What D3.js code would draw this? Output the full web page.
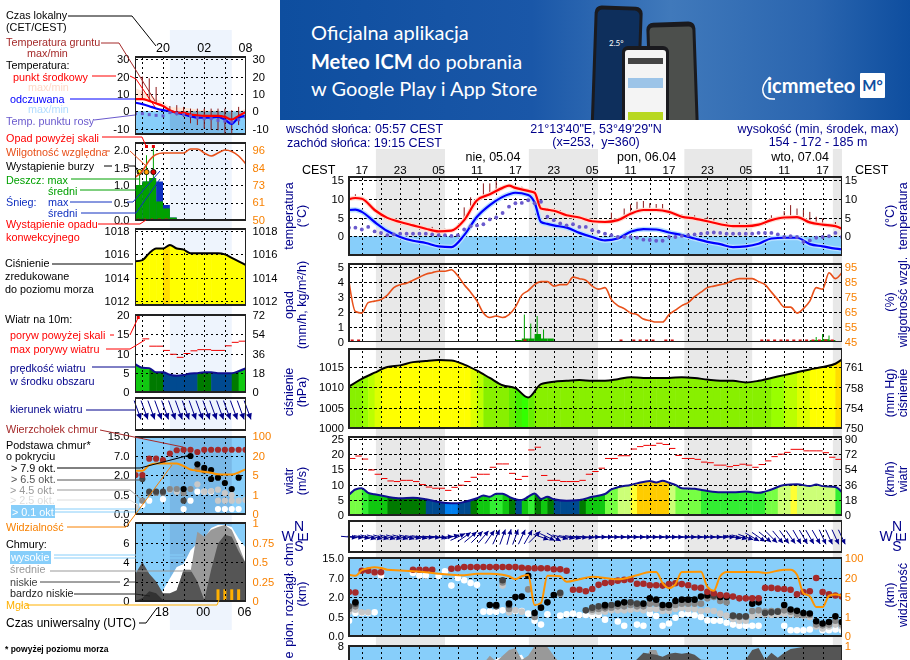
<!DOCTYPE html>
<html lang="pl">
<head>
<meta charset="utf-8">
<title>Meteogram</title>
<script src="https://cdn.jsdelivr.net/npm/d3@7"></script>
<style>
html, body { margin: 0; padding: 0; background: #fff; overflow: hidden; }
svg { display: block; font-family: "Liberation Sans", Arial, sans-serif; font-size: 12.5px; }
.grid line { stroke: #000; stroke-dasharray: 2.5 2.5; shape-rendering: crispEdges; }
.grid .domain, .ticks .domain { display: none; }
.ticks line { display: none; }
.ticks text { font-size: 11.2px; font-family: "Liberation Sans", Arial, sans-serif; }
.frame { fill: none; stroke: #222; stroke-width: 1.3; shape-rendering: crispEdges; }
.sky { mix-blend-mode: multiply; }
</style>
</head>
<body>
<div id="chart"></div>
<script>
// --- main meteogram, hours counted from Saturday 15:00 CEST ---
const hourLabels = ["17","23","05","11","17","23","05","11","17","23","05","11","17"];
const hourLabelAt = [2,8,14,20,26,32,38,44,50,56,62,68,74];
const dayLabels = ["nie, 05.04","pon, 06.04","wto, 07.04"];
const dayLabelAt = [22.5,46.5,70.5];
const nightBands = [[4.2,15],[28.1,38.9],[52.4,63],[75.6,78]];

const tempHours = [0,1,2,4,6,8,10,12,14,16,18,20,22,24,25,26,28,29,30,31,32,34,36,38,40,42,44,46,48,50,52,54,56,58,60,62,64,66,68,70,72,74,76,77];
const tempMean = [9.9,10.2,10,7,4.9,3.8,2.9,2,1.3,1.5,4.3,9.6,11.2,12.9,13.5,12.9,12.1,11.6,7.4,7.1,6.8,5.6,5,4,3.8,4.3,6,7,7,6.5,5.2,4.7,4,3.2,2.7,2.7,3.1,4.3,5,5.1,3.7,3.1,2.7,2];
const tempApparent = [7,7.1,6.5,3.8,1.4,-0.2,-1.2,-1.8,-2.7,-2.9,0.3,5.2,8.3,10.5,11.2,11.6,11,9,3.8,3.3,2.9,2.3,0.9,-0.2,-1.1,-0.6,1.2,1.9,1.8,1,0.3,-0.6,-1.5,-2.1,-2.9,-2.7,-2,-0.6,-0.4,-0.4,-2.1,-2.7,-3.3,-3.5];
const dewPoint = [2.3,2.3,1.8,2.5,1.3,0.9,0.3,0.5,0.7,0.7,0.7,0.7,0.7,0.5,0.3,0.3,0.1,0.3,1.8,2.7,2.9,3.2,4.5,5,6.2,7.9,8.8,8.9,9.6,8.8,9.2,5.2,4.3,3.4,2.9,3.2,2.5,2.5,1.6,1.2,0.7,0.3,-0.2,-0.2,-0.2,-0.4,-0.9,-1,-1.2,-1.2,-0.2,-0.2,0.1,0.3,0.5,0.7,0.9,1,0.9,0.7,0.7,0.7,0.7,0.7,0.9,0.9,0.9,0.5,-0.2,0,-0.2,-1.5,-1.1,-0.4,-0.2,0,0.9,-0.2];
const groundHours = [1,3,5,7,9,11,13,15,18,19,21,22,23,25,27,29,33,35,37,41,43,44,45,46,47,48,49,52,54,56,57,59,61,66,68,69,70,71,72,73,74,76,77];
const groundMax = [11.2,8.3,5.6,4.3,3.6,3.2,2.5,2,7.7,10.4,14.1,14.1,14.7,13.9,13.2,12.3,7,5.6,5,6.3,7.4,8.5,9.2,9.4,8.8,8.6,8.6,5.9,5.6,5.2,4.7,3.8,3.7,5.6,6.7,8.3,7.4,7,6.5,5.2,4.7,3.8,3.6];

const humidity = [85,65,64,71,72,73,76,81,83,84,86,88,90,91,92,92,93,89,83,78,72,64,61,62,61,63,68,76,79,83,85,85,82,83,83,88,87,86,82,80,81,73,69,67,64,63,60,59,58,58,63,66,69,71,75,78,81,82,83,84,86,87,87,87,85,83,78,73,68,68,64,67,72,81,80,91,87,91];
const rainHours = [26,27,28,29,30,31,72,73,74,75];
const rainMean = [0.1,0.2,0.2,0.5,0.2,0.2,0.1,0.1,0.15,0.1];
const rainMaxHours = [27.4,28.4,29.4,30.4,73,74,75];
const rainMax = [1.8,1.2,1.7,0.8,0.3,0.5,0.4];
const convectiveHours = [0,1,27,42,44,45,46,47,49,50,64,65,66,67,68,69,70,71,72,73,74,75];

const pressureHours = [0,2,4,6,8,10,12,14,16,18,20,22,24,26,28,30,32,34,36,38,40,42,44,46,48,50,52,54,56,58,60,62,64,66,68,70,72,74,76,77];
const pressure = [1010.2,1012.1,1013.6,1015,1015.4,1016.2,1016.5,1016.7,1016.6,1015.6,1014.1,1012.3,1010.5,1009.8,1007.5,1010.8,1011.4,1011.6,1011.8,1011.6,1011.6,1012,1012.5,1012.3,1012.3,1012.3,1012.5,1012.3,1011.9,1011.6,1011.6,1011.2,1011.6,1012.3,1013,1013.7,1014.4,1015,1015.8,1016.8];

const windHours = [0,1,2,3,4,6,8,10,12,14,16,17,18,20,21,22,23,24,25,26,27,28,29,30,31,32,34,36,38,40,41,42,44,45,47,48,49,50,51,52,54,56,58,60,62,64,66,68,70,72,73,74,76,77];
const windSpeed = [6.6,8.4,8.8,7.3,6.8,6,5.5,5.7,5.2,4.3,3.9,3.9,4.3,5.5,6.4,6,7,7,6,5.2,4.9,6,7.1,5.3,6,5.2,4.7,4.9,6,6.9,8.4,9.1,9.9,10.4,11.2,10.7,11.3,10.6,9.9,8.8,8.6,7.9,7.5,7.5,7.7,7.3,8.4,9.9,10.15,9.5,10,9.5,9.2,7.5];
const gusts = [18.6,19.4,18.4,14.8,13.4,12,11.2,11,11.4,11.4,11,10,9.2,8.8,8.8,8.1,9.1,9.8,11,12.4,13.4,13.4,15.7,16.8,16.8,13.7,11.7,12.7,21.4,22.3,13,11.4,11.4,11,11,11,11.4,13.4,14.3,15.4,18.6,18.6,19.5,19.5,21.7,22.5,22.9,22.9,23.6,23.2,21.9,19.6,18.6,18.6,18.3,17.4,17.2,16.4,16.4,15.9,16.3,16.7,16.4,15.7,16.6,17.8,19.2,20,20.6,21.6,21.6,21.1,21.1,21.1,20.5,19,18.3];
const windDirection = [95,95,100,105,105,105,105,105,105,105,100,100,95,95,95,85,75,65,55,50,45,40,35,25,20,15,20,25,30,45,110,115,120,105,100,100,95,95,90,90,90,90,90,90,90,90,90,90,90,90,90,90,90,90,90,90,90,90,90,90,100,105,110,120,125,130,135,140,145,145,150,150,150,150,155,155,155,155];

const cloudTopHours = [0,1,2,3,4,5,10,11,12,13,16,17,18,19,20,21,22,23,24,25,26,27,28,29,30,31,32,33,34,35,36,37,38,39,40,41,42,43,44,45,46,47,48,49,50,51,52,53,54,55,56,57,58,59,60,61,62,63,64,65,66,67,68,69,70,71,72,73,74,75,76,77];
const cloudTop = [3.3,3.2,9.9,9.9,9.3,9.3,10.3,10.3,10.3,10.3,10.7,10.9,11.4,11.4,11.4,11.4,11.4,11.4,11.4,11.4,11.4,11.1,10.9,10.9,10.9,10.9,10.5,10.5,9.9,3.9,3.9,3.5,4.1,5.2,5.7,5.9,6.3,6.5,6.6,5.5,5.5,5.1,5.1,5,5.4,5.6,5.4,5.1,4.5,4.4,3.4,3,2.5,2.4,2.1,1.9,1.9,1.9,1.9,4.4,4.4,4.2,4.1,3.9,2.7,3.3,3.5,7,3.3,2.7,2.4,2.1];
const baseBlackHours = [1,22,23,25,26,27,28,29,30,31,32,40,42,43,46,47,48,49,50,51,52,53,54,55,56,58,59,63,64,68,69,70,71,72,73,74,75,76,77];
const baseBlack = [1.6,1.4,1.4,1.5,2,2.1,7.9,0.8,1.2,1.6,2.5,1.4,1.5,1.6,1.5,1.9,1.8,1.4,1.4,1.7,1.8,1.8,1.8,2.1,2.4,2,2,1.5,1.6,1.4,1.06,0.96,0.8,0.76,0.39,0.33,0.37,0.55,0.37];
const baseDarkHours = [0,1,23,24,25,33,37,38,39,40,41,44,45,57,60,61,62,65,66,67];
const baseDark = [1.3,1.5,1.3,6.4,1.4,3.1,1,1.2,1.3,1.3,1.4,1.6,1.5,2.3,0.6,0.55,0.55,0.8,0.85,0.9];
const baseMidHours = [0,1,24,25,28,29,33,38,39,40,41,42,43,44,45,46,47,48,49,50,51,52,53,54,55,56,57,58,59,60,61,62,63,64,65,66,67,68,69,70,71,72,73,74,75,76,77];
const baseMid = [1.1,1.3,5.8,1.1,4,0.5,2.8,1.05,1.1,1.15,1.2,1.3,1.3,1.4,1.3,1.3,1.5,1.5,1.2,1.2,1.4,1.5,1.5,1.5,1.5,1.9,2,1.7,1.6,0.55,0.5,0.5,0.95,1,0.9,0.95,0.95,1,0.9,0.7,0.65,0.65,0.3,0.28,0.3,0.4,0.3];
const baseLightHours = [0,1,2,3,4,24,25,26,27,38,39,40,41,42,43,44,45,46,47,48,49,50,51,52,53,54,55,56,57,58,59,60,61,62,63,64,65,66,67,68,69,70,71,72,73,74,75,76,77];
const baseLight = [0.9,1.05,0.85,0.85,9,5,0.85,1,0.9,0.9,0.9,0.9,1,1,1,1.05,1.1,1,1.1,1.1,0.95,0.95,1.1,1.2,1.1,1.1,0.95,1,0.95,0.75,0.6,0.45,0.4,0.4,0.55,0.7,0.7,0.65,0.7,0.75,0.7,0.65,0.6,0.5,0.25,0.2,0.25,0.3,0.25];
const baseWhiteHours = [0,1,2,3,4,5,10,11,12,14,15,16,17,18,19,20,21,22,23,24,25,26,27,28,29,30,31,33,34,35,36,37,38,39,40,42,43,45,46,47,48,49,50,51,52,53,54,55,56,57,58,59,60,61,62,63,64,68,69,70,71,72,74,75,76,77];
const baseWhite = [0.4,0.8,0.8,0.8,0.85,8,9,8,8,7.8,9.7,5,7,6.4,5.7,5.2,0.9,0.9,0.9,1,0.95,0.95,0.95,0.75,0.4,0.3,0.7,0.6,0.7,0.75,0.65,0.65,0.6,0.65,0.43,0.38,0.27,0.3,0.27,0.75,0.58,0.27,0.33,0.48,0.7,0.75,0.63,0.5,0.41,0.4,0.4,0.35,0.3,0.27,0.27,0.27,0.27,0.27,0.15,0.15,0.15,0.17,0.15,0.15,0.17,0.15];
const visibilityHours = [0,1,2,3,4,5,6,8,10,12,14,16,18,20,22,24,25,26,27,28,29,30,31,32,33,34,36,38,42,45,47,48,49,50,51,52,55,56,57,58,59,64,65,68,69,70,71,72,73,74,75,76,77];
const visibility = [33,29,51,59,63,60,53,50,47,43,37,33,31,37,37,33,27,19,27,32,3.4,3.8,29,29,27,17,19,25,19,31,44,44,16,12,15,44,45,13,10,27,44,44,40,53,53,33,8,5.5,3,3,6,7,6];

const cloudHours = [0,20,21,22,23,24,25,26,27,28,29,31,32,33,44,46,47,48,49,50,51,52,53,54,55,60,62,63,64,65,66,67,68,69,70,72,75,77];
const cloudLow = [3,4,4,4,4,4,4,5,5,5,5,5,5,5,6,7.3,7.2,7.1,6.9,7.2,7.3,7.2,7.3,7.1,6.6,6.4,6.6,7.6,7.8,6.6,7.3,6.8,7.3,7.7,7.8,8,8,8];
const cloudMid = [2,5,6.2,7,6.4,7,7.6,7.8,6.6,7,8,7.9,7,6.2,5,6,7.6,7.6,6,5,5,5,5,5,5,5,5,5,5,5,5,5,5,5,5,5,5,5];
const cloudHigh = [2,5,5,6,6.7,6.9,7,7,7.1,6,5,5,5,5,5,5,5,5,5,5,5,5,5,5,5,5,5,5,5,5,5,5,5,5,5,5,5,5];

// --- small "now" chart on the left, local hours ---
const sideHours = [16,17,18,19,20,21,22,23,24,25,26,27,28,29,30,31,32];
const sideTempMean = [7,7,5.9,4.5,3,0.6,-0.8,-1,-2,-2.4,-2.7,-2.7,-2.7,-3.3,-4.9,-2.7,-0.6];
const sideTempMax = [13.3,11.5,9.5,7,5,2.5,2.2,2,1.5,1,0.5,0.5,0.3,0,-1,0,1.2];
const sideApparent = [4.9,4.1,2.9,1.6,0.6,0,-0.8,-1.8,-2.9,-3.7,-3.7,-3.7,-3.3,-4.9,-7.3,-3.7,-2.7];
const sideDewPoint = [-1.4,-1.4,-2,-2.4,-2.7,-0.8,-1.4,-2,-2.7,-3.9,-4.3,-4.3,-5.3,-5.7,-6.3,-4.9,-3.3];
const sideGroundMax = [null,20,19,14,null,3,3.5,2.5,1.5,1.5,1.5,1.5,1.5,1.5,0.6,2.5,null];
const sideGroundMin = [null,7,5.9,4.5,null,-1.4,-2.4,-3.3,-7,-8,-10,-10.6,-11,-13,-12.6,-8,null];
const sideHumidity = [78,82,89,93,94,94,94,94,96.7,96.7,94,92,94,96,95,92,87];
const sideRainHours = [16,17,18,19,20,21];
const sideRainMean = [1,1.1,1.2,0.53,0.33,0.07];
const sideSnowTop = [1,1.1,1.2,1.1,0.43,0.07];
const sideRainMaxHours = [16.6,17.6,18.6];
const sideRainMax = [1.4,1.85,2.1];
const stormColors = ["#ffff00","#ffa500","#e00000"];
const sideConvectiveHours = [16,17,18,19,20];
const sidePressure = [1015.4,1015.5,1016.1,1016.5,1016.5,1016.8,1016.5,1016.4,1016.1,1016.1,1016.1,1016.1,1016.1,1016,1015.7,1015.4,1015.1];
const sideWind = [7.2,6.3,6.2,5.1,5.1,4.5,4.2,4.4,4.8,4.9,5.1,5.1,4.9,4.9,4.9,5.4,6.1];
const sideGustHours = [17,18,19,20,21,22,23,24,25,26,27,28,29,30,31];
const sideGusts = [13.8,11.9,11.9,10.8,9.8,9,10,10.7,11,11,10.8,10.8,12,12.9,13.2];
const sideWindDirection = [160,160,160,160,160,160,160,160,160,160,160,160,160,160,160,160,160];
const sideCloudTop = [2,2,6.3,6.3,5.9,8,9.3,9.5,9.5,8.6,9.5,9.5,9.5,9.5,9.5,9.5,9.5];
const sideBlackHours = [23,24,25,26,27,27,28,29,30,31];
const sideBlack = [0.95,7,4.8,3.9,3.3,1.7,1.8,1.4,0.95,1.8];
const sideDarkHours = [17,18,19,20,23,26];
const sideDark = [1.7,0.75,0.75,0.75,0.35,3.2];
const sideMidHours = [17,18,19,20,21,22,23,24,25];
const sideMid = [0.35,0.65,0.65,0.65,0.95,0.95,0.65,0.95,3.6];
const sideLightHours = [16,21,22,25,26,27,28,29,30,28,29,30,31,32];
const sideLight = [0.2,0.9,0.75,1.3,0.75,0.8,0.9,0.65,0.5,0.35,0.35,0.35,0.35,0.37];
const sideWhiteHours = [17,18,20,23,24,25,26,27,28,29,30,31];
const sideWhite = [0.24,0.35,0.39,0.13,0.35,0.75,0.75,0.75,0.13,0.13,0.13,0.13];
const sideVisibility = [8.4,8.4,12.8,14,14,14,14,12,9.4,8.4,7.5,6.8,5.5,5.3,5.3,7,9.4];
const sideCloudHigh = [0,0,0,0,1.1,2.3,3.5,3.8,5.2,5.9,6.4,7.5,7.8,7.8,7.6,6.4,5.5];
const sideCloudMid = [0,0,0,0,0,0,1.1,3.2,3,7.1,6.6,7.3,7.6,7.8,7.3,5.7,3.9];
const sideCloudLow = [2.8,4,2.8,2,0.8,0.8,1.1,3.2,3.2,2,0.1,3.2,5.9,6.8,6.6,5.1,3.9];
const sideCloudVeryLow = [0,0.3,1,0.8,0.1,0,0,0,0,0,0,0,0,0,0,0,0];
const fogHours = [28,29,30,31];
const fogAmount = [0.15,0.15,0.15,0.15];

// tick tables
const baseTicks = [0,0.5,2,7,15];
const visTicks = [0,1,5,20,100];
const cloudAmountTicks = [0,2,4,6,8];
const cloudFractionLabels = ["0","0.25","0.5","0.75","1"];

// palettes used for the columns under pressure and wind
const pressureColor = d3.scaleThreshold()
    .domain([1007.9,1009,1010,1012.6,1013.2,1013.9,1014.6,1016.75])
    .range(["#33ff00","#44ee00","#66ee00","#88f000","#99ff00","#bbff00","#ddff00","#ffff00","#ffdd00"]);
const windColor = d3.scaleThreshold()
    .domain([4,5,6,7,8,9.2,10.05,10.5])
    .range(["#0080f0","#004a90","#007a00","#10c810","#33ee33","#77ff44","#ccff77","#ffff33","#ffcc00"]);

const NAVY = "#00008b", ORANGE = "#f88000", RH = "#e8501a", DARKRED = "#a52a2a", SKY = "#87cefa";

const svg = d3.select("#chart").append("svg").attr("width", 910).attr("height", 660);
const defs = svg.append("defs");
let clipId = 0;

const mainChart = { x: d3.scaleLinear().domain([0,77]).range([349,841.8]), left: 349, right: 841.8,
    gridHours: d3.range(2,78,3), padLeft: 5, padRight: 3, dotR: 3.3 };
const sideChart = { x: d3.scaleLinear().domain([16,32]).range([135.5,245.5]), left: 135.5, right: 245.5,
    gridHours: d3.range(17,33,3), padLeft: 6, padRight: 7, dotR: 3.1, nightFrom: 21, nightTo: 30 };

// night shading first, so panels sit on top of it
nightBands.forEach(([a,b]) => {
    svg.append("rect").attr("x", mainChart.x(a)).attr("y", 149)
        .attr("width", Math.min(mainChart.x(b), 842) - mainChart.x(a)).attr("height", 511).attr("fill", "#e8e8e8");
});
svg.append("rect").attr("x", sideChart.x(sideChart.nightFrom)).attr("y", 30)
    .attr("width", sideChart.x(sideChart.nightTo) - sideChart.x(sideChart.nightFrom))
    .attr("height", 600).attr("fill", "#eef4fd");

function makePanel(chart, top, bottom, o) {
    const { left, right } = chart;
    const id = `clip-${clipId++}`;
    defs.append("clipPath").attr("id", id).append("rect")
        .attr("x", left).attr("y", top).attr("width", right - left).attr("height", bottom - top);
    const root = svg.append("g");
    const fills = root.append("g").attr("clip-path", `url(#${id})`);
    const grid = root.append("g").attr("clip-path", `url(#${id})`);
    const marks = root.append("g").attr("clip-path", `url(#${id})`);
    const over = root.append("g");

    if (o.y) {
        grid.append("g").attr("class", "grid").attr("transform", `translate(${left},0)`)
            .call(d3.axisLeft(o.y).tickValues(o.gridValues || o.leftTicks).tickSize(-(right - left)).tickFormat(""));
    }
    grid.append("g").attr("class", "grid").attr("transform", `translate(0,${bottom})`)
        .call(d3.axisBottom(chart.x).tickValues(chart.gridHours).tickSize(-(bottom - top)).tickFormat(""));

    root.append("rect").attr("class", "frame").attr("x", left).attr("y", top)
        .attr("width", right - left).attr("height", bottom - top);

    if (o.y) {
        root.append("g").attr("class", "ticks").attr("transform", `translate(${left},0)`)
            .call(d3.axisLeft(o.y).tickValues(o.leftTicks).tickSize(0).tickPadding(chart.padLeft)
                .tickFormat(o.leftFormat || (d => d)));
        const ry = o.yRight || o.y;
        root.append("g").attr("class", "ticks").attr("transform", `translate(${right},0)`)
            .call(d3.axisRight(ry).tickValues(o.rightTicks || o.leftTicks).tickSize(0).tickPadding(chart.padRight)
                .tickFormat(o.rightFormat || (d => d)))
            .selectAll("text").attr("fill", o.rightColor || "#000");
    }
    return { chart, fills, grid, marks, over, top, bottom, left, right };
}

function sky(panel, y0, y1) {
    panel.fills.append("rect").attr("class", "sky").attr("x", panel.left).attr("y", y0)
        .attr("width", panel.right - panel.left).attr("height", y1 - y0).attr("fill", SKY);
    const c = panel.chart;
    if (c.nightFrom) {
        panel.fills.append("rect").attr("class", "sky").attr("x", c.x(c.nightFrom)).attr("y", y0)
            .attr("width", c.x(c.nightTo) - c.x(c.nightFrom)).attr("height", y1 - y0).attr("fill", "#e4e4ec");
    }
}

function drawLine(g, x, y, hours, values, stroke, width) {
    const line = d3.line().x((d,i) => x(hours[i])).y(d => y(d)).curve(d3.curveMonotoneX);
    g.append("path").attr("d", line(values)).attr("fill", "none").attr("stroke", stroke).attr("stroke-width", width);
}

function drawDots(g, chart, y, hours, values, fill) {
    g.append("g").selectAll("circle").data(values).join("circle")
        .attr("cx", (d,i) => chart.x(hours[i])).attr("cy", d => y(d)).attr("r", chart.dotR).attr("fill", fill);
}

// column fill clipped to an area under the line, coloured by the value reached at the end of the hour
function drawColumnArea(panel, chart, y, hours, values, color, base) {
    const lookup = d3.scaleLinear().domain(hours).range(values);
    const area = d3.area().x((d,i) => chart.x(hours[i])).y0(y(base)).y1(d => y(d)).curve(d3.curveMonotoneX);
    const id = `clip-${clipId++}`;
    defs.append("clipPath").attr("id", id).append("path").attr("d", area(values));
    const first = chart.x.domain()[0], last = chart.x.domain()[1];
    panel.fills.append("g").attr("clip-path", `url(#${id})`).selectAll("rect").data(d3.range(first, last)).join("rect")
        .attr("x", d => chart.x(d)).attr("width", d => chart.x(d+1) - chart.x(d) + 0.5)
        .attr("y", panel.top).attr("height", panel.bottom - panel.top)
        .attr("fill", d => color(lookup(d+1)));
}

function drawArrows(panel, chart, hours, dirs, cy, len, head) {
    const g = panel.over.append("g");
    hours.forEach((h,i) => {
        const a = dirs[i] * Math.PI / 180;
        const dx = Math.sin(a) * len / 2, dy = -Math.cos(a) * len / 2;
        const cx = chart.x(h);
        g.append("line").attr("x1", cx - dx).attr("y1", cy - dy).attr("x2", cx + dx).attr("y2", cy + dy)
            .attr("stroke", NAVY).attr("stroke-width", 1);
        const tx = cx + dx, ty = cy + dy;
        const ux = Math.sin(a), uy = -Math.cos(a);
        g.append("path").attr("fill", NAVY)
            .attr("d", `M${tx},${ty}L${tx - ux*head - uy*head*0.5},${ty - uy*head + ux*head*0.5}L${tx - ux*head + uy*head*0.5},${ty - uy*head - ux*head*0.5}Z`);
    });
}

function drawBase(panel, chart, y, vis, s) {
    drawDots(panel.marks, chart, y, s.whiteH, s.white, "#fff");
    drawDots(panel.marks, chart, y, s.lightH, s.light, "#c8c8c8");
    drawDots(panel.marks, chart, y, s.midH, s.mid, "#888");
    drawDots(panel.marks, chart, y, s.darkH, s.dark, "#444");
    drawDots(panel.marks, chart, y, s.blackH, s.black, "#000");
    drawDots(panel.marks, chart, y, s.topH, s.top, DARKRED);
    drawLine(panel.marks, chart.x, vis, s.visH, s.vis, "#ff9400", 2);
}

// ---------- main chart panels ----------
(function drawMain() {
    const c = mainChart;

    const yT = d3.scaleLinear().domain([-5,15]).range([255,180]);
    const pT = makePanel(c, 177, 255, { y: yT, leftTicks: [0,5,10,15] });
    sky(pT, yT(0), 255);
    const meanAt = d3.scaleLinear().domain(tempHours).range(tempMean);
    pT.marks.append("g").selectAll("line").data(groundHours).join("line")
        .attr("x1", d => c.x(d)).attr("x2", d => c.x(d))
        .attr("y1", (d,i) => yT(groundMax[i])).attr("y2", d => yT(meanAt(d)))
        .attr("stroke", "#8b1a1a").attr("stroke-width", 1);
    drawLine(pT.marks, c.x, yT, tempHours, tempApparent, "#b8e0ff", 5);
    drawLine(pT.marks, c.x, yT, tempHours, tempMean, "#ffdcd0", 4.5);
    drawLine(pT.marks, c.x, yT, tempHours, tempApparent, "#0000ff", 2.2);
    drawLine(pT.marks, c.x, yT, tempHours, tempMean, "#ff0000", 2.2);
    pT.marks.append("g").selectAll("circle").data(dewPoint).join("circle")
        .attr("cx", (d,i) => c.x(i)).attr("cy", d => yT(d)).attr("r", 1.9).attr("fill", "#6a5acd");

    const yP = d3.scaleLinear().domain([0,5]).range([341.5,266.7]);
    const yH = d3.scaleLinear().domain([45,95]).range([341.5,266.7]);
    const pP = makePanel(c, 264, 341.7, { y: yP, leftTicks: [0,1,2,3,4,5], yRight: yH,
        rightTicks: [45,55,65,75,85,95], rightColor: ORANGE });
    pP.marks.append("g").selectAll("rect").data(rainMean).join("rect")
        .attr("x", (d,i) => c.x(rainHours[i])).attr("width", c.x(1) - c.x(0))
        .attr("y", d => yP(d)).attr("height", d => yP(0) - yP(d)).attr("fill", "#00a000");
    pP.marks.append("g").selectAll("line").data(rainMax).join("line")
        .attr("x1", (d,i) => c.x(rainMaxHours[i])).attr("x2", (d,i) => c.x(rainMaxHours[i]))
        .attr("y1", d => yP(d)).attr("y2", yP(0)).attr("stroke", "#00a000");
    pP.marks.append("line").attr("x1", c.left).attr("x2", c.right).attr("y1", yP(0)).attr("y2", yP(0))
        .attr("stroke", "#006000");
    pP.marks.append("g").selectAll("rect.conv").data(convectiveHours).join("rect")
        .attr("x", d => c.x(d) + 1.7).attr("width", 3).attr("y", yP(0) - 2).attr("height", 2).attr("fill", "#d01010");
    drawLine(pP.marks, c.x, yH, d3.range(0,78), humidity, RH, 1.6);

    const yPr = d3.scaleLinear().domain([1000,1015]).range([428,367]);
    const yMm = d3.scaleLinear().domain([750,754,758,761]).range([428,408,388,367]);
    const pPr = makePanel(c, 349, 428, { y: yPr, leftTicks: [1000,1005,1010,1015], yRight: yMm, rightTicks: [750,754,758,761] });
    drawColumnArea(pPr, c, yPr, pressureHours, pressure, pressureColor, 1000);
    drawLine(pPr.marks, c.x, yPr, pressureHours, pressure, "#000", 2);

    const yW = d3.scaleLinear().domain([0,25]).range([515,439]);
    const yKm = d3.scaleLinear().domain([0,90]).range([515,439]);
    const pW = makePanel(c, 437, 515, { y: yW, leftTicks: [0,5,10,15,20,25], yRight: yKm, rightTicks: [0,18,36,54,72,90] });
    drawColumnArea(pW, c, yW, windHours, windSpeed, windColor, 0);
    drawLine(pW.marks, c.x, yW, windHours, windSpeed, "#101090", 2);
    pW.marks.append("g").selectAll("line").data(gusts).join("line")
        .attr("x1", (d,i) => c.x(i)).attr("x2", (d,i) => c.x(i+1)).attr("y1", d => yW(d)).attr("y2", d => yW(d))
        .attr("stroke", "#f00000").attr("stroke-width", 1);

    const pD = makePanel(c, 521, 552, {});
    drawArrows(pD, c, d3.range(0,78), windDirection, 537, 16, 5);

    const yB = d3.scaleLinear().domain(baseTicks).range([636,617,597,578,558]);
    const yV = d3.scaleLinear().domain(visTicks).range([636,617,597,578,558]);
    const pB = makePanel(c, 558, 636, { y: yB, leftTicks: baseTicks, leftFormat: d3.format(".1f"),
        yRight: yV, rightTicks: visTicks, rightColor: ORANGE });
    sky(pB, 558, 636);
    drawBase(pB, c, yB, yV, { topH: cloudTopHours, top: cloudTop, blackH: baseBlackHours, black: baseBlack,
        darkH: baseDarkHours, dark: baseDark, midH: baseMidHours, mid: baseMid, lightH: baseLightHours, light: baseLight,
        whiteH: baseWhiteHours, white: baseWhite, visH: visibilityHours, vis: visibility });

    // the window cuts this panel off, only its top ticks are labelled
    const yC = d3.scaleLinear().domain([0,8]).range([724,646]);
    const yCf = d3.scaleLinear().domain([0,1]).range([724,646]);
    const pC = makePanel(c, 646, 724, { y: yC, leftTicks: [8], gridValues: cloudAmountTicks, yRight: yCf, rightTicks: [1],
        rightColor: ORANGE });
    sky(pC, 646, 724);
    const area = vals => d3.area().x((d,i) => c.x(cloudHours[i])).y0(724).y1(d => yC(d))(vals);
    pC.fills.append("path").attr("d", area(cloudHigh)).attr("fill", "#fff");
    pC.fills.append("path").attr("d", area(cloudMid)).attr("fill", "#999");
    pC.fills.append("path").attr("d", area(cloudLow)).attr("fill", "#555");
})();

// ---------- left chart panels ----------
(function drawSide() {
    const c = sideChart;

    const yT = d3.scaleLinear().domain([-10,30]).range([128.5,59.3]);
    const pT = makePanel(c, 57, 134, { y: yT, leftTicks: [-10,0,10,20,30] });
    pT.fills.append("path").attr("fill", "#ffe6d8")
        .attr("d", d3.area().x((d,i) => c.x(sideHours[i])).y0((d,i) => yT(sideTempMean[i])).y1(d => yT(d))(sideTempMax));
    sky(pT, yT(0), 134);
    pT.marks.append("g").selectAll("line").data(sideHours.filter((h,i) => sideGroundMax[i] != null)).join("line")
        .attr("x1", d => c.x(d)).attr("x2", d => c.x(d))
        .attr("y1", d => yT(sideGroundMax[d-16])).attr("y2", d => yT(sideGroundMin[d-16]))
        .attr("stroke", "#8b1a1a").attr("stroke-width", 1);
    drawLine(pT.marks, c.x, yT, sideHours, sideApparent, "#0000ff", 2.2);
    drawLine(pT.marks, c.x, yT, sideHours, sideTempMean, "#ff0000", 2.2);
    pT.marks.append("g").selectAll("rect").data(sideDewPoint).join("rect")
        .attr("x", (d,i) => c.x(sideHours[i]) - 1.5).attr("y", d => yT(d) - 1.5).attr("width", 3).attr("height", 3)
        .attr("fill", "#6a5acd");

    const yP = d3.scaleLinear().domain([0,2]).range([220,150]);
    const yH = d3.scaleLinear().domain([50,61,73,84,96]).range([220,202,184.7,168,150]);
    const pP = makePanel(c, 143, 220, { y: yP, leftTicks: [0,0.5,1,1.5,2], leftFormat: d3.format(".1f"), yRight: yH,
        rightTicks: [50,61,73,84,96], rightColor: ORANGE });
    const band = c.x(17) - c.x(16);
    pP.marks.append("g").selectAll("rect").data(sideSnowTop).join("rect")
        .attr("x", (d,i) => c.x(sideRainHours[i])).attr("width", band).attr("y", d => yP(d))
        .attr("height", d => yP(0) - yP(d)).attr("fill", "#1030c0");
    pP.marks.append("g").selectAll("rect.r").data(sideRainMean).join("rect")
        .attr("x", (d,i) => c.x(sideRainHours[i])).attr("width", band).attr("y", d => yP(d))
        .attr("height", d => yP(0) - yP(d)).attr("fill", "#00a000");
    pP.over.append("g").selectAll("line").data(sideRainMax).join("line")
        .attr("x1", (d,i) => c.x(sideRainMaxHours[i])).attr("x2", (d,i) => c.x(sideRainMaxHours[i]))
        .attr("y1", d => yP(d)).attr("y2", yP(0)).attr("stroke", "#00a000");
    pP.over.append("g").selectAll("rect").data(sideRainMaxHours.slice(1)).join("rect")
        .attr("x", d => c.x(d) - 1.5).attr("y", yP(2) - 5).attr("width", 3).attr("height", 3).attr("fill", "#e00000");
    pP.over.append("g").selectAll("circle").data(sideRainMaxHours).join("circle")
        .attr("cx", d => c.x(d)).attr("cy", yP(1.37)).attr("r", 2.6).attr("stroke", "#000").attr("stroke-width", 0.8)
        .attr("fill", (d,i) => stormColors[i]);
    pP.marks.append("g").selectAll("rect.c").data(sideConvectiveHours).join("rect")
        .attr("x", d => c.x(d) + 1.7).attr("width", 3).attr("y", yP(0) - 1.5).attr("height", 1.5).attr("fill", "#d01010");
    drawLine(pP.over, c.x, yH, sideHours, sideHumidity, RH, 1.6);

    const yPr = d3.scaleLinear().domain([1012,1018]).range([301,231]);
    const pPr = makePanel(c, 229, 305, { y: yPr, leftTicks: [1012,1014,1016,1018] });
    drawColumnArea(pPr, c, yPr, sideHours, sidePressure, pressureColor, 1010);
    drawLine(pPr.marks, c.x, yPr, sideHours, sidePressure, "#000", 2);

    const yW = d3.scaleLinear().domain([0,20]).range([392,315]);
    const yKm = d3.scaleLinear().domain([0,72]).range([392,315]);
    const pW = makePanel(c, 315, 392, { y: yW, leftTicks: [0,5,10,15,20], yRight: yKm, rightTicks: [0,18,36,54,72] });
    drawColumnArea(pW, c, yW, sideHours, sideWind, windColor, 0);
    drawLine(pW.marks, c.x, yW, sideHours, sideWind, "#101090", 2);
    pW.marks.append("g").selectAll("line").data(sideGusts).join("line")
        .attr("x1", (d,i) => c.x(sideGustHours[i])).attr("x2", (d,i) => c.x(sideGustHours[i] + 1))
        .attr("y1", d => yW(d)).attr("y2", d => yW(d)).attr("stroke", "#f00000");
    pW.over.append("rect").attr("x", c.x(16.4) - 1.5).attr("y", 316).attr("width", 3).attr("height", 3).attr("fill", "#f00000");

    const pD = makePanel(c, 398, 430, {});
    drawArrows(pD, c, sideHours.map(h => h + 0.3), sideWindDirection, 410, 20, 6);

    const yB = d3.scaleLinear().domain(baseTicks).range([514,495,475,456,436]);
    const yV = d3.scaleLinear().domain(visTicks).range([514,495,475,456,436]);
    const pB = makePanel(c, 437, 514, { y: yB, leftTicks: baseTicks, leftFormat: d3.format(".1f"),
        yRight: yV, rightTicks: visTicks, rightColor: ORANGE });
    sky(pB, 437, 514);
    drawBase(pB, c, yB, yV, { topH: sideHours, top: sideCloudTop, blackH: sideBlackHours, black: sideBlack,
        darkH: sideDarkHours, dark: sideDark, midH: sideMidHours, mid: sideMid, lightH: sideLightHours, light: sideLight,
        whiteH: sideWhiteHours, white: sideWhite, visH: sideHours, vis: sideVisibility });

    const yC = d3.scaleLinear().domain([0,8]).range([601,523]);
    const yCf = d3.scaleLinear().domain([0,1]).range([601,523]);
    const pC = makePanel(c, 523, 601, { y: yC, leftTicks: cloudAmountTicks, yRight: yCf, rightTicks: [0,0.25,0.5,0.75,1],
        rightFormat: (d,i) => cloudFractionLabels[i], rightColor: ORANGE });
    sky(pC, 523, 601);
    const area = d3.area().x((d,i) => c.x(sideHours[i])).y0(601).y1(d => yC(d));
    pC.fills.append("path").attr("d", area(sideCloudHigh)).attr("fill", "#fff");
    pC.fills.append("path").attr("d", area(sideCloudMid)).attr("fill", "#999");
    pC.fills.append("path").attr("d", area(sideCloudLow)).attr("fill", "#555");
    pC.fills.append("path").attr("d", area(sideCloudVeryLow)).attr("fill", "#333");
    pC.fills.append("g").selectAll("rect").data(fogAmount).join("rect")
        .attr("x", (d,i) => c.x(fogHours[i]) - 1.5).attr("width", 3).attr("y", d => yCf(d)).attr("height", d => 601 - yCf(d))
        .attr("fill", "#ffb000");
})();

// ---------- text around the charts ----------
function text(str, x, y, fill, anchor) {
    return svg.append("text").attr("x", x).attr("y", y).attr("fill", fill || "#000")
        .attr("text-anchor", anchor || "start").text(str);
}

function rotated(str, x, cy, fill) {
    return svg.append("text").attr("transform", `translate(${x},${cy}) rotate(-90)`).attr("fill", fill || NAVY)
        .attr("text-anchor", "middle").text(str);
}

text("wschód słońca: 05:57 CEST", 286, 133, NAVY);
text("zachód słońca: 19:15 CEST", 287, 147, NAVY);
text("21°13'40\"E, 53°49'29\"N", 596, 133, NAVY, "middle");
text("(x=253,  y=360)", 596, 146, NAVY, "middle").style("white-space", "pre");
text("wysokość (min, środek, max)", 818, 133, NAVY, "middle");
text("154 - 172 - 185 m", 818, 146, NAVY, "middle");

text("CEST", 302, 174);
text("CEST", 855, 174);
hourLabels.forEach((l,i) => text(l, mainChart.x(hourLabelAt[i]), 174, "#000", "middle").attr("font-size", 11.5));
dayLabels.forEach((l,i) => text(l, mainChart.x(dayLabelAt[i]), 161, "#000", "middle"));

[["temperatura",216],["ciśnienie",392],["wiatr",481]].forEach(([s,cy]) => rotated(s, 293, cy));
rotated("(°C)", 306, 216);
rotated("opad", 293, 305);
rotated("(mm/h, kg/m²/h)", 306, 305);
rotated("(hPa)", 306, 392);
rotated("(m/s)", 306, 481);
rotated("pion. rozciągł. chm.", 293, 593);
rotated("e", 293, 655);
rotated("(km)", 306, 594);

[["(°C)",216],["(%)",302],["(mm Hg)",393],["(km/h)",479],["(km)",595]].forEach(([s,cy]) => rotated(s, 894, cy));
[["temperatura",216],["wilgotność wzgl.",302],["ciśnienie",393],["wiatr",479],["widzialność",595]].forEach(([s,cy]) => rotated(s, 907, cy));

function compass(x) {
    const add = (s, dx, y) => svg.append("text").attr("x", x + dx).attr("y", y).attr("fill", NAVY)
        .attr("font-size", 14).attr("text-anchor", "middle").text(s);
    add("W", 0, 541);
    add("N", 11, 531);
    add("S", 11, 551);
    svg.append("text").attr("transform", `translate(${x + 20},${537}) rotate(-90)`).attr("fill", NAVY)
        .attr("font-size", 14).attr("text-anchor", "middle").text("E");
}
compass(288);
compass(886);

const legend = [
    ["Czas lokalny",6,19,"#000"],["(CET/CEST)",6,31,"#000"],
    ["Temperatura gruntu",6,46,DARKRED],["max/min",27,57,DARKRED],
    ["Temperatura:",6,69,"#000"],["punkt środkowy",13,81,"#f00"],["max/min",28,91,"#ffd9c8"],
    ["odczuwana",10,103,"#00f"],["max/min",28,113,"#b0dcff"],["Temp. punktu rosy",6,125,"#6a5acd"],
    ["Opad powyżej skali",6,142,"#f00"],["Wilgotność względna",6,156,RH],["Wystąpienie burzy",6,170,"#000"],
    ["Deszcz: max",6,184,"#00a000"],["średni",48,195,"#00a000"],["Śnieg:",6,206,"#1030c0"],["max",48,206,"#1030c0"],
    ["średni",48,217,"#1030c0"],["Wystąpienie opadu",6,228,"#f00"],["konwekcyjnego",6,241,"#f00"],
    ["Ciśnienie",5,267,"#000"],["zredukowane",5,280,"#000"],["do poziomu morza",5,293,"#000"],
    ["Wiatr na 10m:",5,323,"#000"],["poryw powyżej skali",10,339,"#f00"],["max porywy wiatru",10,353,"#f00"],
    ["prędkość wiatru",10,372,NAVY],["w środku obszaru",10,385,NAVY],["kierunek wiatru",10,413,NAVY],
    ["Wierzchołek chmur",6,433,DARKRED],["Podstawa chmur*",6,449,"#000"],["o pokryciu",6,460,"#000"],
    ["> 7.9 okt.",11,472,"#000"],["> 6.5 okt.",11,483,"#555"],["> 4.5 okt.",10,494,"#999"],["> 2.5 okt.",10,504,"#ddd"],
    ["Widzialność",6,531,ORANGE],["Chmury:",6,548,"#000"],["średnie",10,573,"#999"],["niskie",10,586,"#444"],
    ["bardzo niskie",10,597,"#222"],["Mgła",6,609,"#ffb000"]
];
const leaders = [
    ["#000",[[68,16],[132,16],[156,46]]],
    [DARKRED,[[101,43],[119,43],[155,101]]],
    ["#f00",[[92,76],[116,76]]],["#f00",[[130,76],[136,79],[155,107]]],
    ["#00f",[[70,99],[135,99]]],["#6a5acd",[[94,120],[135,115]]],
    ["#f00",[[102,137],[142,137],[146,146]]],
    [RH,[[106,151],[110,151]]],[RH,[[130,151],[145,165]]],
    ["#000",[[104,166],[112,166]]],["#000",[[127,166],[135,166],[139,174]]],
    ["#00a000",[[71,179],[139,179]]],["#00a000",[[80,190],[136,190]]],
    ["#1030c0",[[70,202],[112,202]]],["#1030c0",[[127,202],[133,202],[160,171]]],
    ["#1030c0",[[81,213],[136,213],[160,179]]],
    ["#f00",[[98,224],[140,224],[146,220]]],
    ["#000",[[52,264],[133,264]]],
    ["#f00",[[110,335],[114,335]]],["#f00",[[130,335],[138,318]]],["#f00",[[106,349],[130,349],[145,340]]],
    [NAVY,[[92,367],[135,367]]],[NAVY,[[86,410],[135,410]]],
    [DARKRED,[[100,430],[183,447]]],
    ["#000",[[57,468],[140,468],[190,455]]],["#555",[[57,480],[143,480]]],
    ["#999",[[57,490],[130,490],[142,500]]],["#ddd",[[57,500],[130,500],[138,505]]],
    [SKY,[[55,509],[135,509]]],[SKY,[[55,512],[135,512]]],
    [ORANGE,[[67,527],[126,527],[172,465]]],
    [SKY,[[54,555],[185,555]]],[SKY,[[54,558],[185,558]]],
    ["#999",[[50,571],[192,571]]],
    ["#444",[[40,582],[120,582]]],["#444",[[128,582],[135,582]]],
    ["#222",[[74,594],[135,594],[150,596]]],
    ["#ffb000",[[26,605],[217,605],[219,600]]],
    ["#000",[[139,623],[146,623],[157,608]]]
];
const lineGen = d3.line();
svg.append("g").selectAll("path").data(leaders).join("path")
    .attr("d", d => lineGen(d[1])).attr("fill", "none").attr("stroke", d => d[0]).attr("stroke-width", 1);
legend.forEach(([s,x,y,fill]) => text(s, x, y, fill).attr("font-size", 10.8));

text("Czas uniwersalny (UTC)", 6, 627).attr("font-size", 12);
svg.append("rect").attr("x", 11).attr("y", 505).attr("width", 44).attr("height", 13).attr("fill", SKY);
text("> 0.1 okt.", 12, 516, "#fff").attr("font-size", 10.8);
svg.append("rect").attr("x", 10).attr("y", 551).attr("width", 41).attr("height", 13).attr("fill", SKY);
text("wysokie", 11, 561, "#fff").attr("font-size", 10.8);
text("* powyżej poziomu morza", 5, 652).attr("font-size", 8.5).attr("font-weight", "bold");

// side top/bottom hour labels
[[20,"20"],[26,"02"],[32,"08"]].forEach(([h,l]) => text(l, sideChart.x(h), 52, "#000", "middle"));
[[20,"18"],[26,"00"],[32,"06"]].forEach(([h,l]) => text(l, sideChart.x(h) - 1, 616, "#000", "middle"));

// ---------- banner ----------
(function drawBanner() {
    const grad = defs.append("linearGradient").attr("id", "banner");
    grad.selectAll("stop").data([[0,"#0e4e9f"],[0.4,"#1a57a8"],[0.62,"#4079bb"],[0.85,"#2a65af"],[1,"#0e4e9f"]]).join("stop")
        .attr("offset", d => d[0]).attr("stop-color", d => d[1]);
    defs.append("clipPath").attr("id", "bannerClip").append("rect").attr("x", 280).attr("width", 630).attr("height", 120);
    const g = svg.append("g").attr("font-family", "Lato, sans-serif").attr("fill", "#fff").attr("clip-path", "url(#bannerClip)");
    g.append("rect").attr("x", 280).attr("width", 630).attr("height", 120).attr("fill", "url(#banner)");
    g.append("text").attr("x", 311).attr("y", 40).attr("font-size", 20).text("Oficjalna aplikacja");
    const mid = g.append("text").attr("x", 311).attr("y", 69).attr("font-size", 20);
    mid.append("tspan").attr("font-weight", "bold").text("Meteo ICM");
    mid.append("tspan").text(" do pobrania");
    g.append("text").attr("x", 311).attr("y", 96).attr("font-size", 20).text("w Google Play i App Store");

    g.append("rect").attr("x", 593).attr("y", 6).attr("width", 48).attr("height", 125).attr("rx", 7).attr("fill", "#1a1a1e")
        .attr("transform", "rotate(2 617 60)");
    g.append("rect").attr("x", 596).attr("y", 10).attr("width", 42).attr("height", 120).attr("rx", 5).attr("fill", "#0e2f5c")
        .attr("transform", "rotate(2 617 60)");
    g.append("text").attr("x", 609).attr("y", 46).attr("font-size", 8).text("2.5°");
    g.append("rect").attr("x", 648).attr("y", 22).attr("width", 49).attr("height", 110).attr("rx", 7).attr("fill", "#1a1a1e")
        .attr("transform", "rotate(-2 672 75)");
    g.append("rect").attr("x", 651).attr("y", 27).attr("width", 43).attr("height", 100).attr("rx", 4).attr("fill", "#4c4f4c")
        .attr("transform", "rotate(-2 672 75)");
    g.append("rect").attr("x", 622).attr("y", 46).attr("width", 47).attr("height", 90).attr("rx", 6).attr("fill", "#1a1a1e");
    g.append("rect").attr("x", 625).attr("y", 50).attr("width", 41).attr("height", 75).attr("rx", 3).attr("fill", "#f4f4f4");
    g.append("rect").attr("x", 628).attr("y", 58).attr("width", 35).attr("height", 6).attr("fill", "#444");
    g.append("rect").attr("x", 628).attr("y", 78).attr("width", 35).attr("height", 10).attr("fill", "#9cc4e8");
    g.append("rect").attr("x", 628).attr("y", 112).attr("width", 35).attr("height", 13).attr("fill", "#b8d820");
    g.append("path").attr("d", "M770,77 C758,88 762,100 775,99").attr("fill", "none").attr("stroke", "#fff").attr("stroke-width", 1.5);
    g.append("text").attr("x", 767).attr("y", 93).attr("font-size", 20).attr("font-weight", "bold").text("icmmeteo");
    g.append("rect").attr("x", 860).attr("y", 73).attr("width", 25).attr("height", 25).attr("rx", 1).attr("fill", "#fff");
    g.append("text").attr("x", 872.5).attr("y", 91).attr("text-anchor", "middle").attr("font-size", 15)
        .attr("font-weight", "bold").attr("fill", "#0e4e9f").text("M°");
})();
</script>
</body>
</html>
